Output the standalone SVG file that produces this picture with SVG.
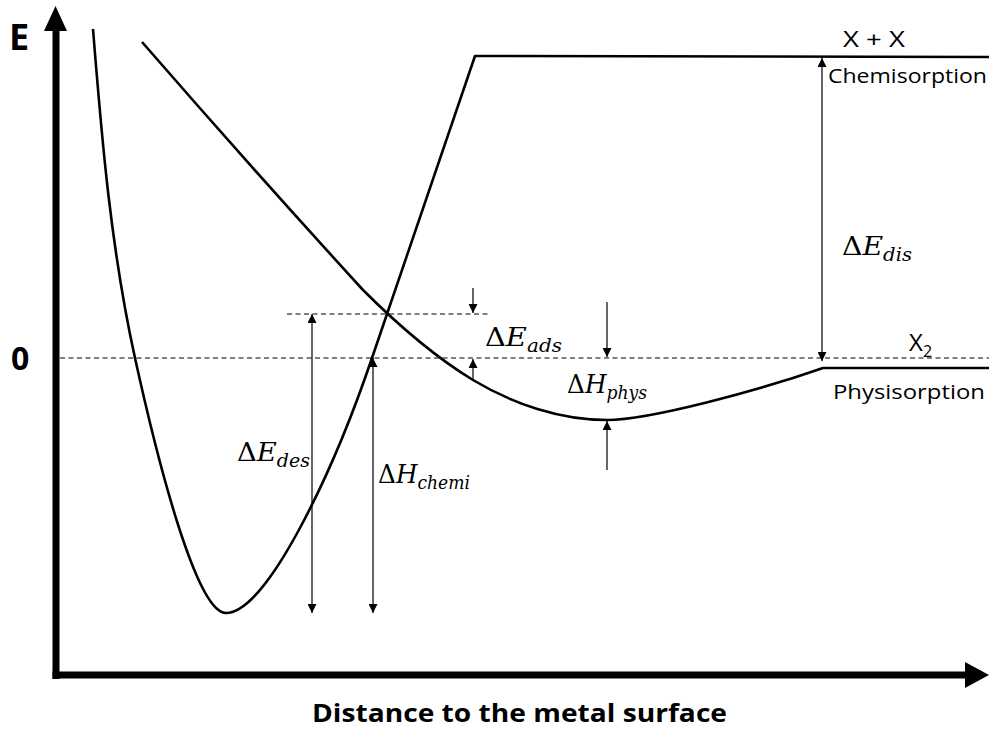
<svg xmlns="http://www.w3.org/2000/svg" width="989" height="730" viewBox="0 0 989 730">
<style>
.curve{fill:none;stroke:#000;stroke-width:2.6;stroke-linejoin:round}
.dash{fill:none;stroke:#000;stroke-width:1;stroke-dasharray:5 3.5}
.dim{fill:none;stroke:#000;stroke-width:1.2}
.axis{fill:none;stroke:#000;stroke-width:7}
.lbl{font-family:"Open Sans","Liberation Sans",sans-serif;fill:#000}
.bold{font-family:"Open Sans","Liberation Sans",sans-serif;font-weight:bold;fill:#000}
.math{font-family:"DejaVu Serif","Liberation Serif",serif;font-size:26px;fill:#000}
.it{font-style:italic}
.sub{font-style:italic;font-size:18px}
</style>
<defs>
<marker id="ah" viewBox="0 0 10 10" refX="10" refY="5" markerWidth="9" markerHeight="9" markerUnits="userSpaceOnUse" orient="auto">
<path d="M0,0 L10,5 L0,10 Z" fill="#000"/>
</marker>
</defs>

<g id="axes">
<line class="axis" x1="56" y1="679" x2="56" y2="26"/>
<polygon points="44,31 55.5,6 67,31" fill="#000"/>
<line class="axis" x1="52.5" y1="675" x2="968" y2="675"/>
<polygon points="965,662 989,675 965,688" fill="#000"/>
<text class="bold" x="9" y="50" font-size="36">E</text>
<text class="bold" x="11" y="370" font-size="32">0</text>
<text class="bold" x="312" y="722" font-size="25" textLength="415" lengthAdjust="spacingAndGlyphs">Distance to the metal surface</text>
</g>

<g id="reference-lines">
<line class="dash" x1="60" y1="358" x2="989" y2="358"/>
<line class="dash" x1="287" y1="314" x2="491" y2="314"/>
</g>

<g id="chemisorption-curve">
<path class="curve" d="M93,29 C101.8,139 110.8,248 135,358 C157,458 196,613 226,613 C266,613 332,476 372,358 L475,56 L989,57"/>
</g>

<g id="physisorption-curve">
<path class="curve" d="M142,42 C215,126 290,210 363,290 C400,327 440,360 473,380 C513,404 560,420 607,420 C650,420 760,390 823,368 L989,368"/>
</g>

<g id="connectors">
<line class="dim" x1="312" y1="330" x2="312" y2="314" marker-end="url(#ah)"/>
<line class="dim" x1="312" y1="330" x2="312" y2="613" marker-end="url(#ah)"/>
<line class="dim" x1="373" y1="380" x2="373" y2="358" marker-end="url(#ah)"/>
<line class="dim" x1="373" y1="380" x2="373" y2="613" marker-end="url(#ah)"/>
<line class="dim" x1="822" y1="80" x2="822" y2="58" marker-end="url(#ah)"/>
<line class="dim" x1="822" y1="80" x2="822" y2="361" marker-end="url(#ah)"/>
<line class="dim" x1="473" y1="288" x2="473" y2="313" marker-end="url(#ah)"/>
<line class="dim" x1="473" y1="380" x2="473" y2="359" marker-end="url(#ah)"/>
<line class="dim" x1="607" y1="302" x2="607" y2="357" marker-end="url(#ah)"/>
<line class="dim" x1="607" y1="470" x2="607" y2="421" marker-end="url(#ah)"/>
</g>

<g id="state-labels">
<text class="lbl" x="843" y="47" font-size="22" textLength="62" lengthAdjust="spacingAndGlyphs">X + X</text>
<text class="lbl" x="828" y="83" font-size="20" textLength="159" lengthAdjust="spacingAndGlyphs">Chemisorption</text>
<text class="lbl" x="909" y="351" font-size="24">X<tspan font-size="16" dy="6">2</tspan></text>
<text class="lbl" x="833" y="399" font-size="20" textLength="152" lengthAdjust="spacingAndGlyphs">Physisorption</text>
</g>

<g id="energy-labels">
<text class="math" x="842" y="255" textLength="70" lengthAdjust="spacingAndGlyphs">Δ<tspan class="it">E</tspan><tspan class="sub" dy="6">dis</tspan></text>
<text class="math" x="485" y="346" textLength="77" lengthAdjust="spacingAndGlyphs">Δ<tspan class="it">E</tspan><tspan class="sub" dy="6">ads</tspan></text>
<text class="math" x="567" y="393" textLength="80" lengthAdjust="spacingAndGlyphs">Δ<tspan class="it">H</tspan><tspan class="sub" dy="6">phys</tspan></text>
<text class="math" x="237" y="461" textLength="73" lengthAdjust="spacingAndGlyphs">Δ<tspan class="it">E</tspan><tspan class="sub" dy="6">des</tspan></text>
<text class="math" x="378" y="483" textLength="92" lengthAdjust="spacingAndGlyphs">Δ<tspan class="it">H</tspan><tspan class="sub" dy="6">chemi</tspan></text>
</g>
</svg>
